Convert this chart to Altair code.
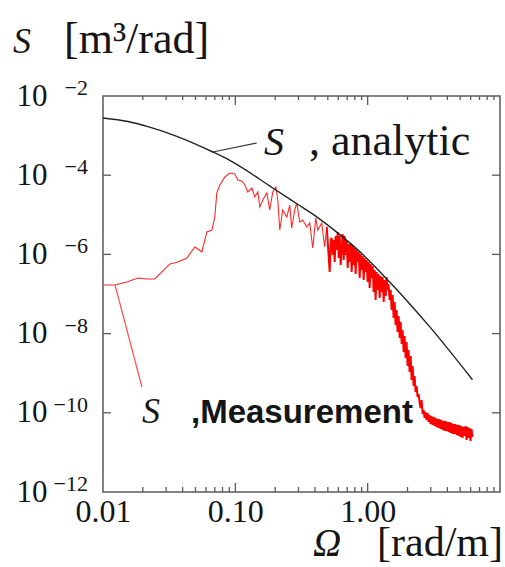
import altair as alt
import numpy as np
import pandas as pd

SERIF = "'Liberation Serif', 'Times New Roman', Times, serif"
SANS = "'Liberation Sans', Arial, Helvetica, sans-serif"
INK = "#151515"
FRAME = "#5a5a5a"
W, H = 397, 396

# ---- analytic curve (log10 values) ----
analytic_log_omega = [-2.000, -1.811, -1.660, -1.457, -1.170, -1.042, -0.717, -0.536,
                      -0.377, -0.211, -0.083, 0.166, 0.264, 0.468, 0.792]
analytic_log_s = [-2.556, -2.645, -2.775, -3.000, -3.414, -3.625, -4.323, -4.720,
                  -5.070, -5.500, -5.860, -6.697, -7.050, -7.825, -9.165]

meas_log_omega_low = [-2.000, -1.909, -1.819, -1.736, -1.668, -1.608, -1.555, -1.494, -1.434,
                      -1.366, -1.306, -1.283, -1.253, -1.215, -1.177, -1.155, -1.140, -1.117,
                      -1.079, -1.042, -1.004, -0.981, -0.951, -0.928, -0.906, -0.875, -0.853,
                      -0.830, -0.815, -0.792, -0.762, -0.740, -0.717, -0.694, -0.679, -0.664,
                      -0.642, -0.611, -0.589, -0.574, -0.551, -0.536, -0.513, -0.491, -0.460,
                      -0.438, -0.415, -0.392, -0.377, -0.347, -0.325, -0.309]
meas_log_s_low = [-6.773, -6.773, -6.697, -6.596, -6.621, -6.621, -6.444, -6.242, -6.192,
                  -6.091, -5.813, -5.864, -5.939, -5.434, -5.384, -5.056, -4.449, -4.247,
                  -4.045, -3.944, -3.970, -4.121, -4.146, -4.247, -4.424, -4.323, -4.551,
                  -4.424, -4.803, -4.626, -4.449, -4.879, -4.424, -4.298, -4.626, -5.384,
                  -4.879, -5.056, -4.753, -5.333, -4.879, -4.702, -5.182, -5.131, -5.308,
                  -5.207, -5.838, -5.081, -5.384, -5.207, -5.813, -5.308]

meas_log_omega_high = [
    -0.309, -0.287, -0.279, -0.272, -0.264, -0.257, -0.249, -0.242, -0.234, -0.226, -0.219,
    -0.211, -0.204, -0.196, -0.189, -0.181, -0.174, -0.166, -0.158, -0.151, -0.143,
    -0.136, -0.128, -0.121, -0.113, -0.106, -0.098, -0.091, -0.083, -0.075, -0.068,
    -0.060, -0.053, -0.045, -0.038, -0.030, -0.023, -0.015, -0.008,
    0.000, 0.008, 0.015, 0.023, 0.030, 0.038, 0.045, 0.053, 0.060, 0.068,
    0.075, 0.083, 0.091, 0.098, 0.106, 0.113, 0.121, 0.128, 0.136, 0.143,
    0.151, 0.158, 0.166, 0.174, 0.181, 0.189, 0.196, 0.204, 0.211, 0.219,
    0.226, 0.234, 0.242, 0.249, 0.257, 0.264, 0.272, 0.279, 0.287, 0.294,
    0.302, 0.309, 0.317, 0.325, 0.332, 0.340, 0.347, 0.355, 0.362, 0.370,
    0.377, 0.385, 0.392, 0.400, 0.408, 0.415, 0.423, 0.430, 0.438, 0.445,
    0.453, 0.460, 0.468, 0.475, 0.483, 0.491, 0.498, 0.506, 0.513, 0.521,
    0.528, 0.536, 0.543, 0.551, 0.558, 0.566, 0.574, 0.581, 0.589, 0.596,
    0.604, 0.611, 0.619, 0.626, 0.634, 0.642, 0.649, 0.657, 0.664, 0.672,
    0.679, 0.687, 0.694, 0.702, 0.709, 0.717, 0.725, 0.732, 0.740, 0.747,
    0.755, 0.762, 0.770, 0.777, 0.785, 0.792]
meas_log_s_high = [
    -5.308, -6.444, -5.636, -5.586, -6.015, -5.636, -6.192, -5.535, -5.889, -5.434, -6.091,
    -5.535, -6.268, -5.813, -5.485, -6.141, -5.535, -6.015, -5.636, -6.343, -5.737,
    -6.192, -5.712, -6.444, -5.788, -6.268, -5.838, -6.495, -5.889, -6.192, -5.939,
    -6.596, -5.990, -6.394, -6.040, -6.646, -6.091, -6.444, -6.141,
    -6.697, -6.192, -6.848, -6.242, -6.596, -6.293, -6.949, -6.394, -7.152, -6.444,
    -6.899, -6.495, -7.101, -6.545, -6.949, -6.571, -7.202, -6.646, -7.051, -6.571,
    -6.899, -6.747, -7.152, -6.899, -7.404, -7.025, -7.606, -7.202, -7.783, -7.404,
    -7.960, -7.556, -8.111, -7.707, -8.263, -7.909, -8.465, -8.061, -8.616, -8.212,
    -8.818, -8.414, -8.970, -8.566, -9.172, -8.818, -9.323, -9.071, -9.475, -9.323,
    -9.601, -9.525, -9.727, -9.879, -9.677, -10.030, -9.929, -10.131, -9.980, -10.182,
    -10.005, -10.232, -10.056, -10.283, -10.081, -10.308, -10.106, -10.333, -10.131, -10.359,
    -10.157, -10.384, -10.157, -10.409, -10.182, -10.434, -10.207, -10.460, -10.207, -10.460,
    -10.232, -10.485, -10.232, -10.510, -10.258, -10.535, -10.283, -10.535, -10.283, -10.561,
    -10.308, -10.586, -10.308, -10.611, -10.333, -10.636, -10.359, -10.586, -10.333, -10.687,
    -10.359, -10.636, -10.384, -10.712, -10.409, -10.611]

# leader lines of the annotations (log10 Omega, log10 S)
lead_analytic_omega = [-1.170, -0.838]
lead_analytic_s = [-3.414, -3.187]
lead_meas_omega = [-1.909, -1.706]
lead_meas_s = [-6.773, -9.348]

# ---- ticks and labels ----
x_label_values = [0.01, 0.1, 1.0]
x_major_ticks = [0.1, 1.0]
x_minor_ticks = [0.02, 0.03, 0.04, 0.05, 0.06, 0.07, 0.08, 0.09,
                 0.2, 0.3, 0.4, 0.5, 0.6, 0.7, 0.8, 0.9,
                 2, 3, 4, 5, 6, 7, 8, 9]
y_label_values = [1e-2, 1e-4, 1e-6, 1e-8, 1e-10, 1e-12]
y_label_exp = ["\u22122", "\u22124", "\u22126", "\u22128", "\u221210", "\u221212"]
y_major_ticks = [1e-4, 1e-6, 1e-8, 1e-10]

xs = alt.Scale(type="log", domain=[0.01, 10], nice=False)
ys = alt.Scale(type="log", domain=[1e-12, 1e-2], nice=False)
xaxis = alt.Axis(values=x_label_values, format=".2f", ticks=False, tickSize=0, domain=False,
                 grid=False, labelFont=SERIF, labelFontSize=32, labelColor=INK,
                 labelPadding=4, labelFlush=False, labelOverlap=False, title=None)
yaxis = alt.Axis(values=y_label_values, labelExpr="'10'", ticks=False, tickSize=0, domain=False,
                 grid=False, labelFont=SERIF, labelFontSize=31, labelColor=INK,
                 labelPadding=56, labelFlush=False, labelOverlap=False, title=None)


def X():
    return alt.X("omega:Q", scale=xs, axis=xaxis)


def Y():
    return alt.Y("s:Q", scale=ys, axis=yaxis)


df_an = pd.DataFrame({"omega": 10.0 ** np.array(analytic_log_omega),
                      "s": 10.0 ** np.array(analytic_log_s)})
df_lo = pd.DataFrame({"omega": 10.0 ** np.array(meas_log_omega_low),
                      "s": 10.0 ** np.array(meas_log_s_low)})
df_hi = pd.DataFrame({"omega": 10.0 ** np.array(meas_log_omega_high),
                      "s": 10.0 ** np.array(meas_log_s_high)})
df_la = pd.DataFrame({"omega": 10.0 ** np.array(lead_analytic_omega),
                      "s": 10.0 ** np.array(lead_analytic_s)})
df_lm = pd.DataFrame({"omega": 10.0 ** np.array(lead_meas_omega),
                      "s": 10.0 ** np.array(lead_meas_s)})

meas_lo = alt.Chart(df_lo).mark_line(color="#ff2a2a", strokeWidth=1.1).encode(x=X(), y=Y())
meas_hi = alt.Chart(df_hi).mark_line(color="#ff0000", strokeWidth=2.0).encode(x=X(), y=Y())
analytic = alt.Chart(df_an).mark_line(color="#222222", strokeWidth=1.4,
                                      interpolate="monotone").encode(x=X(), y=Y())
lead_a = alt.Chart(df_la).mark_line(color="#333333", strokeWidth=1.2).encode(x=X(), y=Y())
lead_m = alt.Chart(df_lm).mark_line(color="#ff5050", strokeWidth=1.2).encode(x=X(), y=Y())

df_xmaj = pd.DataFrame({"omega": x_major_ticks})
df_xmin = pd.DataFrame({"omega": x_minor_ticks})
df_ymaj = pd.DataFrame({"s": y_major_ticks})

tick_style = dict(color=FRAME, strokeWidth=1.3)
ticks = [
    alt.Chart(df_xmaj).mark_rule(**tick_style).encode(x=X(), y=alt.value(H), y2=alt.value(H - 9)),
    alt.Chart(df_xmaj).mark_rule(**tick_style).encode(x=X(), y=alt.value(0), y2=alt.value(9)),
    alt.Chart(df_xmin).mark_rule(**tick_style).encode(x=X(), y=alt.value(H), y2=alt.value(H - 5)),
    alt.Chart(df_xmin).mark_rule(**tick_style).encode(x=X(), y=alt.value(0), y2=alt.value(4)),
    alt.Chart(df_ymaj).mark_rule(**tick_style).encode(y=Y(), x=alt.value(0), x2=alt.value(8)),
    alt.Chart(df_ymaj).mark_rule(**tick_style).encode(y=Y(), x=alt.value(W), x2=alt.value(W - 8)),
]

df_exp = pd.DataFrame({"s": y_label_values, "t": y_label_exp})
exps = alt.Chart(df_exp).mark_text(align="right", baseline="alphabetic", font=SERIF,
                                   fontSize=22, color=INK, dy=-1).encode(
    y=Y(), x=alt.value(-15), text="t:N")


def label(text, x, y, size, style="normal", weight="normal", font=SERIF, align="left"):
    return alt.Chart(pd.DataFrame({"t": [text]})).mark_text(
        align=align, baseline="alphabetic", font=font, fontSize=size, fontStyle=style,
        fontWeight=weight, color=INK).encode(x=alt.value(x), y=alt.value(y), text="t:N")


texts = [
    label("S", -90, -43, 36, style="italic"),
    label("[m\u00b3/rad]", -39, -43, 44),
    label("\u03a9", 210, 460, 39, style="italic"),
    label("[rad/m]", 400, 460, 42, align="right"),
    label("S", 161, 59, 40, style="italic"),
    label(", analytic", 206, 59, 44),
    label("S", 39, 327, 36, style="italic"),
    label(",Measurement", 88, 327, 33, weight="bold", font=SANS),
]

chart = alt.layer(meas_lo, meas_hi, analytic, lead_a, lead_m, *ticks, exps, *texts).properties(
    width=W, height=H,
    autosize=alt.AutoSizeParams(type="none"),
    padding={"left": 103, "top": 96, "right": 5, "bottom": 75},
    background="white",
).configure_view(stroke=FRAME, strokeWidth=1.5)

chart.save("out.html", embed_options={"renderer": "svg", "actions": False})
